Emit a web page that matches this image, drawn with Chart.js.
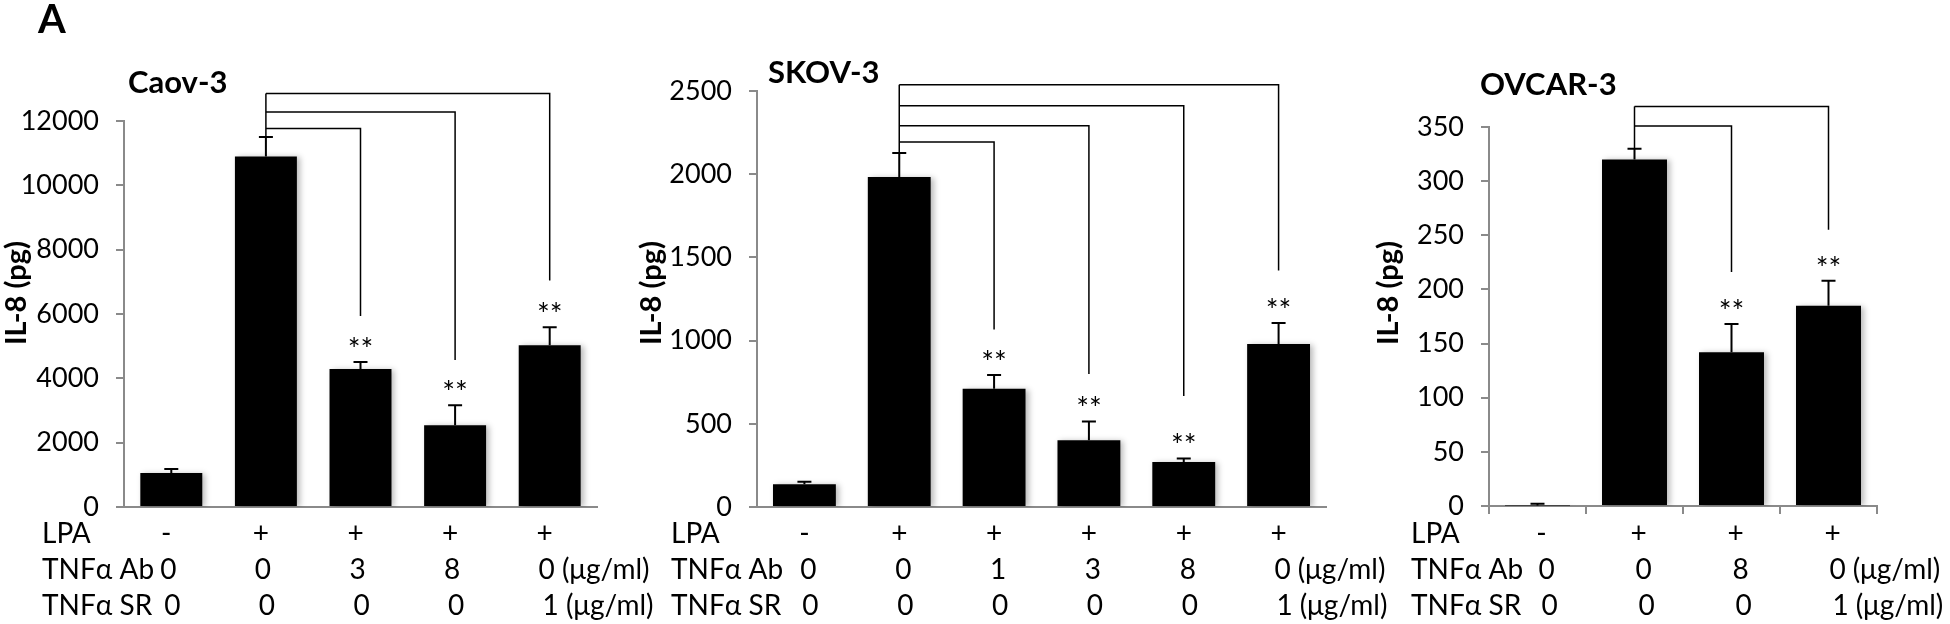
<!DOCTYPE html>
<html>
<head>
<meta charset="utf-8">
<script src="https://cdn.jsdelivr.net/npm/chart.js@4.4.1/dist/chart.umd.min.js"></script>
<style>
    html, body { margin: 0; padding: 0; background: #fff; }
    #wrap { position: relative; width: 1950px; height: 624px; overflow: hidden; }
    canvas { position: absolute; top: 0; }
</style>
</head>
<body>
<div id="wrap">
    <canvas id="caov" width="660" height="624" style="left:0px"></canvas>
    <canvas id="skov" width="764" height="624" style="left:636px"></canvas>
    <canvas id="ovcar" width="578" height="624" style="left:1372px"></canvas>
</div>
<script>
// --- data ---
// Caov-3
const caovLpa = ['-', '+', '+', '+', '+'];
const caovAb = [0, 0, 3, 8, 0];
const caovSr = [0, 0, 0, 0, 1];
const caovIl8 = [1060, 10900, 4290, 2540, 5030];
const caovErr = [120, 600, 220, 620, 560];
const caovStars = ['', '', '**', '**', '**'];
const caovCompare = [2, 3, 4];
const caovTicks = [0, 2000, 4000, 6000, 8000, 10000, 12000];

// SKOV-3
const skovLpa = ['-', '+', '+', '+', '+', '+'];
const skovAb = [0, 0, 1, 3, 8, 0];
const skovSr = [0, 0, 0, 0, 0, 1];
const skovIl8 = [136, 1983, 710, 401, 270, 980];
const skovErr = [15, 145, 83, 113, 22, 126];
const skovStars = ['', '', '**', '**', '**', '**'];
const skovCompare = [2, 3, 4, 5];
const skovTicks = [0, 500, 1000, 1500, 2000, 2500];

// OVCAR-3
const ovcarLpa = ['-', '+', '+', '+'];
const ovcarAb = [0, 0, 8, 0];
const ovcarSr = [0, 0, 0, 1];
const ovcarIl8 = [0.5, 320, 142, 185];
const ovcarErr = [1.5, 10, 26, 23];
const ovcarStars = ['', '', '**', '**'];
const ovcarCompare = [2, 3];
const ovcarTicks = [0, 50, 100, 150, 200, 250, 300, 350];

const UNIT = ' (\u03bcg/ml)';
const AXIS = '#8a8a8a';
const FONT = 'Lato';

// soft grey drop shadow behind the bars, like the spreadsheet original
const barShadow = {
    id: 'barShadow',
    beforeDatasetDraw(chart) {
        const ctx = chart.ctx;
        ctx.save();
        ctx.shadowColor = 'rgba(0,0,0,0.28)';
        ctx.shadowBlur = 6;
        ctx.shadowOffsetX = 3;
        ctx.shadowOffsetY = 1;
    },
    afterDatasetDraw(chart) {
        chart.ctx.restore();
    }
};

function makeDecor(p) {
    return {
        id: 'decor',
        afterDatasetsDraw(chart) {
            const ctx = chart.ctx;
            const xs = chart.scales.x;
            const ys = chart.scales.y;
            const area = chart.chartArea;
            const L = p.layout;
            ctx.save();
            ctx.strokeStyle = '#000';
            ctx.fillStyle = '#000';

            // error bars (upper only)
            ctx.lineWidth = 2;
            p.values.forEach((v, i) => {
                const cx = xs.getPixelForValue(i);
                const y0 = ys.getPixelForValue(v);
                const y1 = ys.getPixelForValue(v + p.err[i]);
                ctx.beginPath();
                ctx.moveTo(cx, y0);
                ctx.lineTo(cx, y1);
                ctx.moveTo(cx - 7, y1);
                ctx.lineTo(cx + 7, y1);
                ctx.stroke();
            });

            // significance brackets from the LPA-only bar
            ctx.lineWidth = 1.5;
            const ref = 1;
            const fromX = xs.getPixelForValue(ref);
            const fromY = ys.getPixelForValue(p.values[ref] + p.err[ref]);
            let topY = fromY;
            L.brackets.forEach((b, k) => {
                const yl = ys.getPixelForValue(b.level);
                const tx = xs.getPixelForValue(p.compare[k]);
                const ye = ys.getPixelForValue(b.end);
                ctx.beginPath();
                ctx.moveTo(fromX, yl);
                ctx.lineTo(tx, yl);
                ctx.lineTo(tx, ye);
                ctx.stroke();
                topY = Math.min(topY, yl);
            });
            ctx.beginPath();
            ctx.moveTo(fromX, fromY);
            ctx.lineTo(fromX, topY);
            ctx.stroke();

            // stars
            ctx.font = '30px ' + FONT;
            ctx.textAlign = 'center';
            ctx.textBaseline = 'alphabetic';
            p.stars.forEach((s, i) => {
                if (!s) return;
                const cx = xs.getPixelForValue(i);
                const y1 = ys.getPixelForValue(p.values[i] + p.err[i]);
                ctx.fillText(s, cx, y1 - 2);
            });

            // panel title
            ctx.font = 'bold 31px ' + FONT;
            ctx.textAlign = 'left';
            ctx.fillText(p.title, area.left + L.titleDx, L.titleY);

            // panel tag
            if (p.tag) {
                ctx.font = 'bold 40px ' + FONT;
                ctx.fillText(p.tag, 38, 33);
            }

            // y title
            ctx.save();
            ctx.translate(L.yTitleX, 293);
            ctx.rotate(-Math.PI / 2);
            ctx.font = 'bold 29px ' + FONT;
            ctx.textAlign = 'center';
            ctx.textBaseline = 'middle';
            ctx.fillText('IL-8 (pg)', 0, 0);
            ctx.restore();

            // treatment table under the axis
            const rows = [['LPA', p.lpa], ['TNF\u03b1 Ab', p.ab], ['TNF\u03b1 SR', p.sr]];
            const baselines = [543, 579, 615];
            ctx.font = '28px ' + FONT;
            ctx.textBaseline = 'alphabetic';
            rows.forEach((row, r) => {
                ctx.textAlign = 'left';
                ctx.fillText(row[0], area.left - L.labelDx, baselines[r]);
                row[1].forEach((v, i) => {
                    const x = xs.getPixelForValue(i) + L.rowDx[r];
                    const txt = String(v);
                    if (r > 0 && i === row[1].length - 1) {
                        ctx.textAlign = 'left';
                        ctx.fillText(txt + UNIT, x - ctx.measureText(txt).width / 2, baselines[r]);
                    } else {
                        ctx.textAlign = 'center';
                        ctx.fillText(txt, x, baselines[r]);
                    }
                });
            });
            ctx.restore();
        }
    };
}

function makePanel(id, p) {
    const L = p.layout;
    return new Chart(document.getElementById(id), {
        type: 'bar',
        data: {
            labels: p.lpa.map((s, i) => `${s} / ${p.ab[i]} / ${p.sr[i]}`),
            datasets: [{
                data: p.values,
                backgroundColor: '#000',
                borderWidth: 0,
                barPercentage: L.barPct,
                categoryPercentage: 1
            }]
        },
        options: {
            responsive: false,
            animation: false,
            devicePixelRatio: 1,
            layout: { padding: { top: L.padTop, right: L.padRight, left: 0, bottom: 0 } },
            plugins: { legend: { display: false }, tooltip: { enabled: false } },
            scales: {
                x: {
                    grid: { display: L.xTicks, drawOnChartArea: false, offset: true, tickLength: 8, color: AXIS, lineWidth: 2 },
                    border: { color: AXIS, width: 2 },
                    ticks: { display: false },
                    afterFit: s => { s.height = L.xHeight; }
                },
                y: {
                    min: 0,
                    max: p.ticks[p.ticks.length - 1],
                    afterBuildTicks: s => { s.ticks = p.ticks.map(v => ({ value: v })); },
                    ticks: { font: { family: FONT, size: 27 }, color: '#000', padding: 17, callback: v => String(v) },
                    grid: { drawOnChartArea: false, tickLength: 8, color: AXIS, lineWidth: 2 },
                    border: { color: AXIS, width: 2 },
                    afterFit: s => { s.width = L.yWidth; }
                }
            }
        },
        plugins: [barShadow, makeDecor(p)]
    });
}

makePanel('caov', {
    title: 'Caov-3', tag: 'A',
    lpa: caovLpa, ab: caovAb, sr: caovSr,
    values: caovIl8, err: caovErr, stars: caovStars, compare: caovCompare, ticks: caovTicks,
    layout: {
        yWidth: 124, padTop: 121, padRight: 63, xHeight: 117, barPct: 0.655, xTicks: false,
        titleDx: 4, titleY: 93, yTitleX: 17, labelDx: 82, rowDx: [-5, -3, 1],
        brackets: [{ level: 11765, end: 5940 }, { level: 12280, end: 4570 }, { level: 12855, end: 7040 }]
    }
});

makePanel('skov', {
    title: 'SKOV-3',
    lpa: skovLpa, ab: skovAb, sr: skovSr,
    values: skovIl8, err: skovErr, stars: skovStars, compare: skovCompare, ticks: skovTicks,
    layout: {
        yWidth: 121, padTop: 91, padRight: 74, xHeight: 117, barPct: 0.663, xTicks: false,
        titleDx: 11, titleY: 83, yTitleX: 16, labelDx: 86, rowDx: [0, 4, 6],
        brackets: [{ level: 2193, end: 1067 }, { level: 2291, end: 799 }, { level: 2411, end: 667 }, { level: 2537, end: 1421 }]
    }
});

makePanel('ovcar', {
    title: 'OVCAR-3',
    lpa: ovcarLpa, ab: ovcarAb, sr: ovcarSr,
    values: ovcarIl8, err: ovcarErr, stars: ovcarStars, compare: ovcarCompare, ticks: ovcarTicks,
    layout: {
        yWidth: 117, padTop: 127, padRight: 73, xHeight: 118, barPct: 0.67, xTicks: true,
        titleDx: -9, titleY: 95, yTitleX: 17, labelDx: 78, rowDx: [4, 9, 12],
        brackets: [{ level: 351, end: 216 }, { level: 369, end: 255 }]
    }
});
</script>
</body>
</html>
